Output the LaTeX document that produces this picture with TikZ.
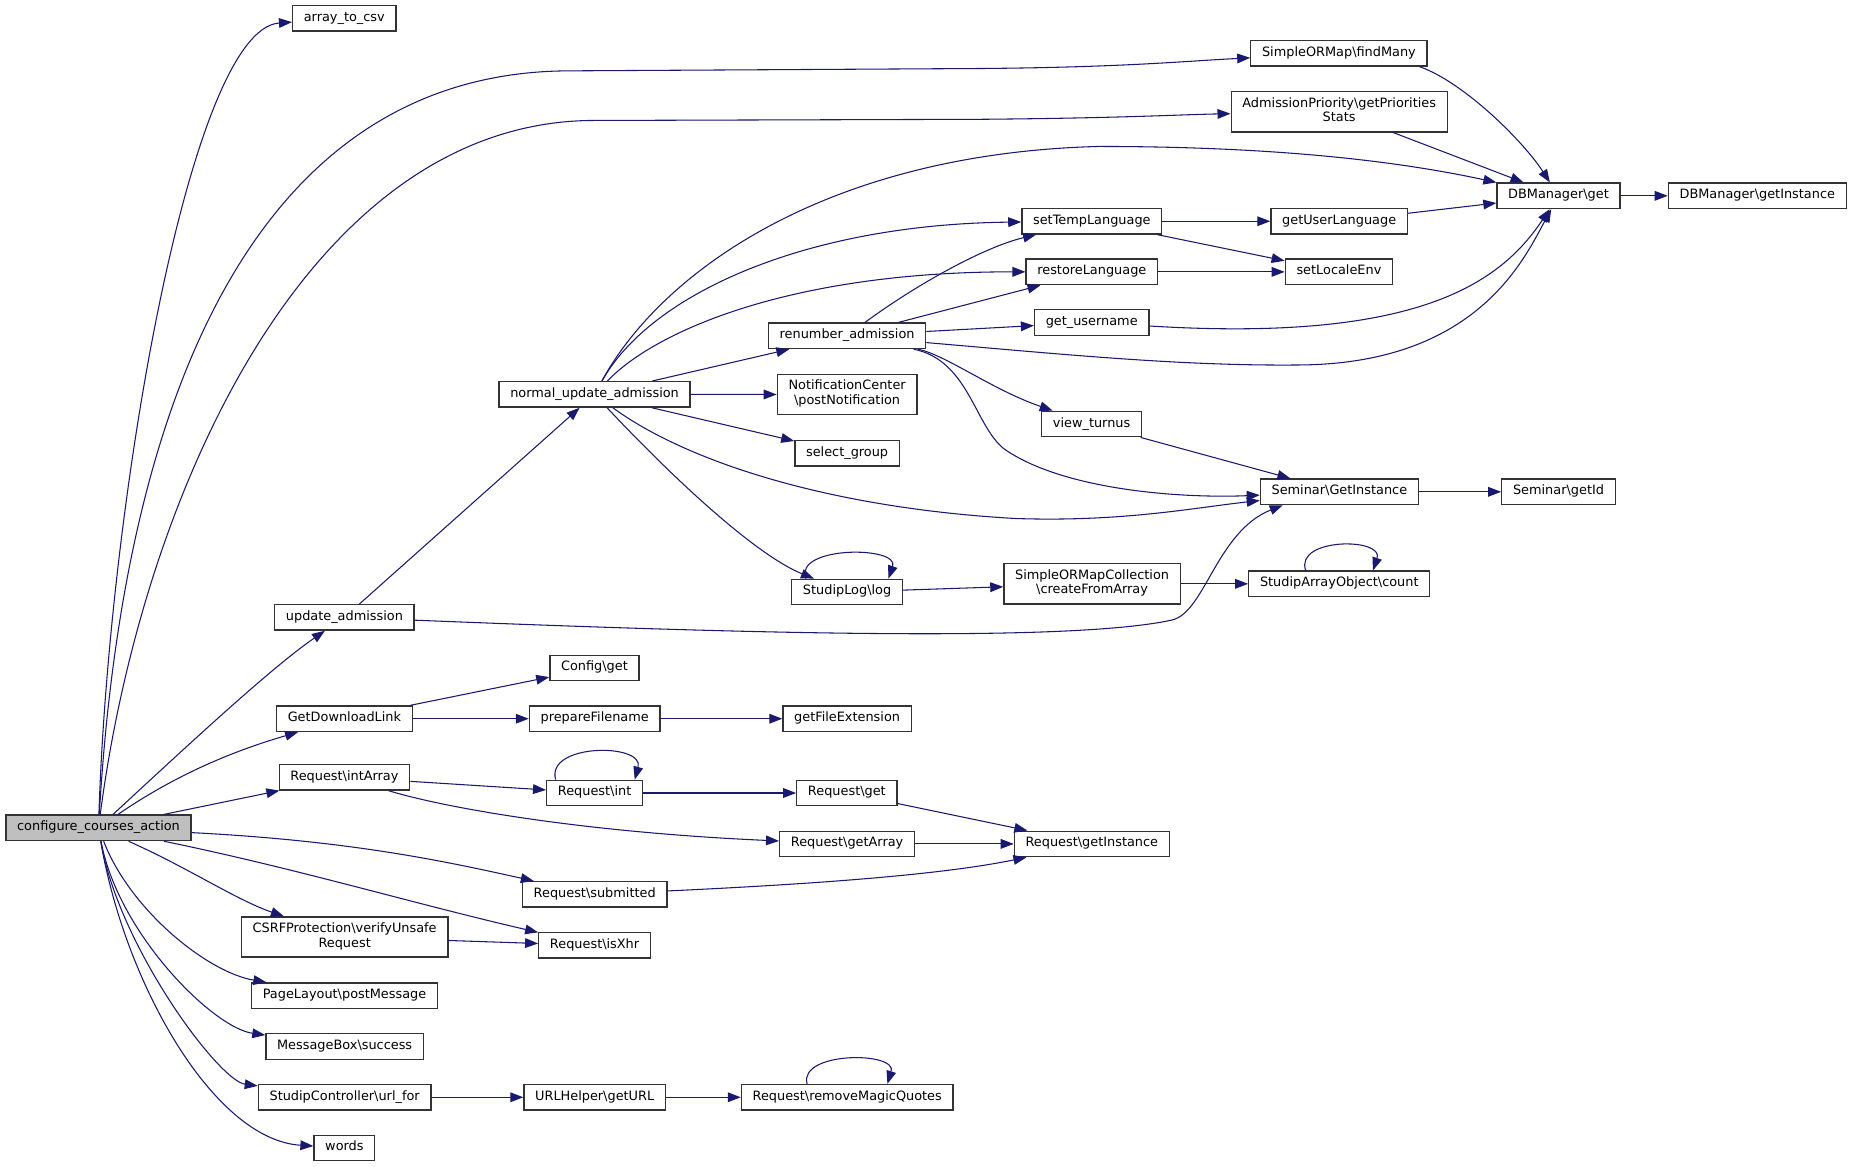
\documentclass[tikz,border=0pt]{standalone}
\usepackage{fontspec}
\setmainfont{DejaVu Sans}
\usetikzlibrary{arrows.meta}
\definecolor{edgeblue}{HTML}{191970}
\begin{document}
\begin{tikzpicture}[x=1pt,y=-1pt,
  fn/.style={draw=black!80, line width=1.1pt, fill=white, minimum height=21.6pt,
    inner xsep=9.5pt, inner ysep=2pt, font=\fontsize{10.9pt}{12.6pt}\selectfont,
    execute at begin node=\strut, align=center},
  fn2/.style={fn, minimum height=34pt},
  root/.style={fn, fill=black!25},
  callarrow/.style={draw=edgeblue, line width=0.9pt, -{Triangle[length=11pt,width=8.2pt]}}]
\path[use as bounding box, fill=white] (0,0) rectangle (1568,988);

\node[root] (cca) at (83.4,700.9) {configure\_courses\_action};
\node[fn] (arraycsv) at (291.5,15.5) {array\_to\_csv};
\node[fn] (findmany) at (1133.6,45) {SimpleORMap\textbackslash findMany};
\node[fn2] (prio) at (1133.8,94.7) {AdmissionPriority\textbackslash getPriorities\\Stats};
\node[fn] (dbget) at (1319.5,165.8) {DBManager\textbackslash get};
\node[fn] (dbinst) at (1487.8,165.8) {DBManager\textbackslash getInstance};
\node[fn] (settemp) at (924.4,187.3) {setTempLanguage};
\node[fn] (getlang) at (1133.8,187.3) {getUserLanguage};
\node[fn] (restore) at (924.4,230.2) {restoreLanguage};
\node[fn] (setlocale) at (1133.6,230.2) {setLocaleEnv};
\node[fn] (username) at (924.3,273) {get\_username};
\node[fn] (renumber) at (717.2,284.3) {renumber\_admission};
\node[fn] (nua) at (503.4,333.9) {normal\_update\_admission};
\node[fn2] (notify) at (717.2,334) {NotificationCenter\\\textbackslash postNotification};
\node[fn] (selgroup) at (717.2,383.8) {select\_group};
\node[fn] (turnus) at (924.2,359) {view\_turnus};
\node[fn] (semgi) at (1134,416.4) {Seminar\textbackslash GetInstance};
\node[fn] (semid) at (1319.5,416.4) {Seminar\textbackslash getId};
\node[fn] (log) at (717.2,501.2) {StudipLog\textbackslash log};
\node[fn2] (somc) at (924.6,494.3) {SimpleORMapCollection\\\textbackslash createFromArray};
\node[fn] (count) at (1133.9,494.3) {StudipArrayObject\textbackslash count};
\node[fn] (upd) at (291.6,522.7) {update\_admission};
\node[fn] (config) at (503.3,565.5) {Config\textbackslash get};
\node[fn] (gdl) at (291.6,608.5) {GetDownloadLink};
\node[fn] (prepfile) at (503.5,608.5) {prepareFilename};
\node[fn] (fileext) at (717.2,608.5) {getFileExtension};
\node[fn] (intarray) at (291.6,658) {Request\textbackslash intArray};
\node[fn] (reqint) at (503.4,671.4) {Request\textbackslash int};
\node[fn] (reqget) at (717,671.4) {Request\textbackslash get};
\node[fn] (getarray) at (717.2,714.5) {Request\textbackslash getArray};
\node[fn] (reqinst) at (924.4,714.5) {Request\textbackslash getInstance};
\node[fn] (submitted) at (503.5,757.2) {Request\textbackslash submitted};
\node[fn] (isxhr) at (503.4,800.4) {Request\textbackslash isXhr};
\node[fn2] (csrf) at (291.8,793.3) {CSRFProtection\textbackslash verifyUnsafe\\Request};
\node[fn] (postmsg) at (291.7,843) {PageLayout\textbackslash postMessage};
\node[fn] (success) at (291.8,886) {MessageBox\textbackslash success};
\node[fn] (urlfor) at (291.8,929) {StudipController\textbackslash url\_for};
\node[fn] (urlhelper) at (503.5,929) {URLHelper\textbackslash getURL};
\node[fn] (magic) at (717.3,929) {Request\textbackslash removeMagicQuotes};
\node[fn] (words) at (291.6,971.9) {words};

% calls of configure_courses_action
\draw[callarrow] (cca) .. controls (92,430) and (160,25) .. (arraycsv);
\draw[callarrow] (cca) .. controls (105,330) and (220,62) .. (480,60) -- (830,58) .. controls (950,57) and (1000,52) .. (findmany);
\draw[callarrow] (cca) .. controls (120,420) and (260,105) .. (500,102) -- (830,101) .. controls (950,100) and (1000,97) .. (prio);
\draw[callarrow] (cca) .. controls (160,630) and (230,565) .. (upd);
\draw[callarrow] (cca) .. controls (150,655) and (200,635) .. (gdl);
\draw[callarrow] (cca) -- (intarray);
\draw[callarrow] (cca) .. controls (300,712) and (380,730) .. (submitted);
\draw[callarrow] (cca) .. controls (250,735) and (350,765) .. (isxhr);
\draw[callarrow] (cca) .. controls (160,735) and (200,762) .. (csrf);
\draw[callarrow] (cca) .. controls (110,770) and (175,823) .. (postmsg);
\draw[callarrow] (cca) .. controls (100,790) and (180,870) .. (success);
\draw[callarrow] (cca) .. controls (100,800) and (185,915) .. (urlfor);
\draw[callarrow] (cca) .. controls (105,830) and (180,965) .. (words);

% admission
\draw[callarrow] (upd) -- (nua);
\draw[callarrow] (upd) .. controls (600,535) and (900,545) .. (992,525) .. controls (1020,519) and (1030,450) .. ([xshift=-48pt]semgi.south);
\draw[callarrow] (nua) .. controls (560,230) and (700,130) .. (930,124) .. controls (1100,124) and (1200,140) .. (dbget);
\draw[callarrow] (nua) .. controls (550,250) and (680,190) .. (settemp);
\draw[callarrow] (nua) .. controls (555,280) and (670,230) .. (restore);
\draw[callarrow] (nua) -- (renumber);
\draw[callarrow] (nua) -- (notify);
\draw[callarrow] (nua) -- (selgroup);
\draw[callarrow] (nua) .. controls (580,390) and (700,430) .. (860,439) .. controls (950,442) and (1010,430) .. (semgi);
\draw[callarrow] (nua) .. controls (570,405) and (640,470) .. (log);
\draw[callarrow] (renumber) .. controls (770,245) and (830,210) .. (settemp);
\draw[callarrow] (renumber) -- (restore);
\draw[callarrow] (renumber) -- (username);
\draw[callarrow] (renumber) .. controls (900,300) and (1000,310) .. (1100,309) .. controls (1250,308) and (1290,220) .. (dbget);
\draw[callarrow] (renumber) .. controls (800,300) and (840,330) .. (turnus);
\draw[callarrow] (renumber) .. controls (820,305) and (825,360) .. (850,380) .. controls (900,415) and (1000,422) .. (semgi);

% language and database
\draw[callarrow] (settemp) -- (getlang);
\draw[callarrow] (settemp) -- (setlocale);
\draw[callarrow] (restore) -- (setlocale);
\draw[callarrow] (getlang) -- (dbget);
\draw[callarrow] (username) .. controls (1200,290) and (1270,240) .. (dbget);
\draw[callarrow] ([xshift=-7pt]findmany.south east) .. controls (1240,70) and (1290,120) .. (dbget);
\draw[callarrow] (prio) -- (dbget);
\draw[callarrow] (dbget) -- (dbinst);
\draw[callarrow] (turnus) -- (semgi);
\draw[callarrow] (semgi) -- (semid);
\draw[callarrow] ([xshift=-35pt]log.north) .. controls (672,462) and (762,462) .. ([xshift=35pt]log.north);
\draw[callarrow] (log) -- (somc);
\draw[callarrow] (somc) -- (count);
\draw[callarrow] ([xshift=-28.5pt]count.north) .. controls (1096,455) and (1172,455) .. ([xshift=28.5pt]count.north);

% requests
\draw[callarrow] (gdl) -- (config);
\draw[callarrow] (gdl) -- (prepfile);
\draw[callarrow] (prepfile) -- (fileext);
\draw[callarrow] (intarray) -- (reqint);
\draw[callarrow] (intarray) .. controls (380,685) and (500,705) .. (getarray);
\draw[callarrow] ([xshift=-33pt]reqint.north) .. controls (462,629) and (546,629) .. ([xshift=34pt]reqint.north);
\draw[callarrow] (reqint) -- (reqget);
\draw[callarrow] (reqget) -- (reqinst);
\draw[callarrow] (getarray) -- (reqinst);
\draw[callarrow] (submitted) .. controls (700,748) and (800,740) .. (reqinst);
\draw[callarrow] (csrf) -- (isxhr);
\draw[callarrow] (urlfor) -- (urlhelper);
\draw[callarrow] (urlhelper) -- (magic);
\draw[callarrow] ([xshift=-34pt]magic.north) .. controls (676,890) and (760,890) .. ([xshift=34pt]magic.north);
\end{tikzpicture}
\end{document}
